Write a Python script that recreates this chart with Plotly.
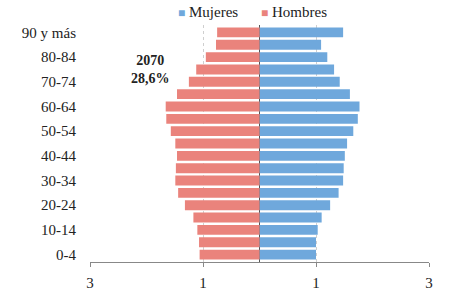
import plotly.graph_objects as go

grupos = ["0-4", "5-9", "10-14", "15-19", "20-24", "25-29", "30-34", "35-39",
          "40-44", "45-49", "50-54", "55-59", "60-64", "65-69", "70-74",
          "75-79", "80-84", "85-89", "90 y más"]
mujeres = [1.00, 1.00, 1.03, 1.10, 1.25, 1.40, 1.48, 1.49, 1.51, 1.55,
           1.66, 1.74, 1.77, 1.60, 1.42, 1.32, 1.20, 1.09, 1.48]
hombres = [1.06, 1.07, 1.10, 1.17, 1.32, 1.44, 1.49, 1.48, 1.46, 1.49,
           1.57, 1.65, 1.66, 1.46, 1.25, 1.12, 0.95, 0.77, 0.75]
xtick_vals = [-3, -1, 1, 3]
xtick_text = ["3", "1", "1", "3"]

font_family = "Liberation Serif"
pos = list(range(len(grupos)))
c_muj = "#6FA8DC"
c_hom = "#EA837C"

fig = go.Figure()
fig.add_trace(go.Bar(y=pos, x=mujeres, orientation="h", name="Mujeres",
                     marker=dict(color=c_muj, line=dict(width=0))))
fig.add_trace(go.Bar(y=pos, x=[-v for v in hombres], orientation="h", name="Hombres",
                     marker=dict(color=c_hom, line=dict(width=0))))

legend_anns = [
    dict(text=f"<span style='color:{c_muj};font-size:12px'>■</span> Mujeres",
         x=(176 - 90) / 339, y=1.055, xref="paper", yref="paper",
         xanchor="left", yanchor="middle", showarrow=False,
         font=dict(size=15, color="#222")),
    dict(text=f"<span style='color:{c_hom};font-size:12px'>■</span> Hombres",
         x=(259 - 90) / 339, y=1.055, xref="paper", yref="paper",
         xanchor="left", yanchor="middle", showarrow=False,
         font=dict(size=15, color="#222")),
]

fig.update_layout(
    width=474, height=291,
    margin=dict(l=90, r=45, t=25, b=29, autoexpand=False),
    barmode="overlay", bargap=0.2,
    plot_bgcolor="white", paper_bgcolor="white",
    font=dict(family=font_family, size=14, color="#222"),
    showlegend=False,
    xaxis=dict(range=[-3, 3], tickvals=xtick_vals, ticktext=xtick_text,
               showgrid=True, gridcolor="#cfcfcf", griddash="dot", gridwidth=1,
               zeroline=True, zerolinecolor="#555", zerolinewidth=1,
               showline=True, linecolor="#888", linewidth=1,
               ticks="outside", ticklen=4, tickcolor="#888",
               ticklabelstandoff=3,
               tickfont=dict(size=15, color="#222")),
    yaxis=dict(range=[-0.6, 18.6], tickvals=pos[::2], ticktext=grupos[::2],
               showgrid=False, zeroline=False, showline=False,
               ticks="outside", ticklen=10, tickcolor="rgba(0,0,0,0)",
               tickfont=dict(size=15, color="#222")),
    annotations=[dict(text="<b>2070</b><br><b>28,6%</b>", x=-1.93, y=15.0,
                      xref="x", yref="y", showarrow=False,
                      font=dict(size=14, color="#222"), align="center")] + legend_anns,
)

fig.write_html("out.html")
